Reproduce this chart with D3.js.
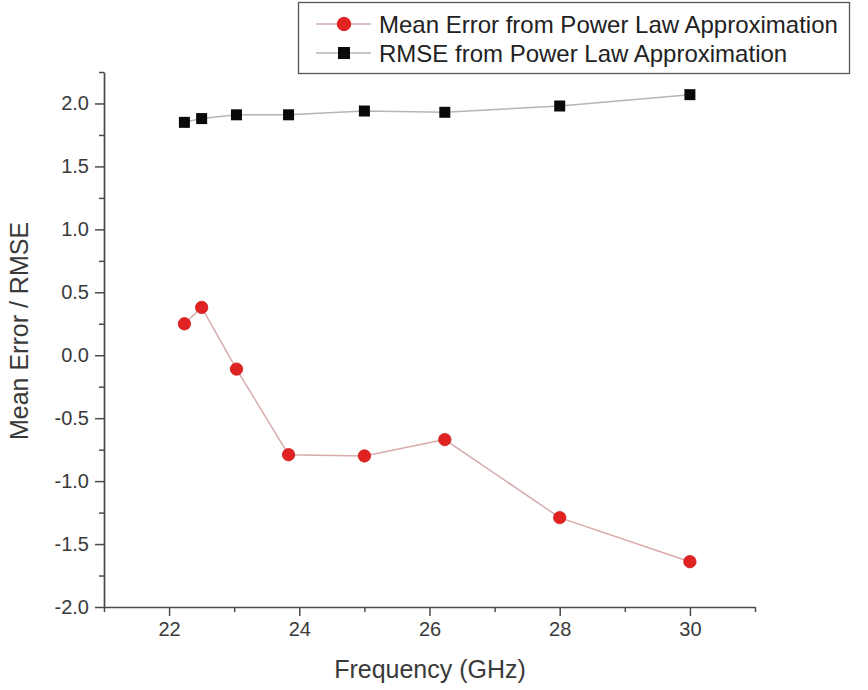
<!DOCTYPE html>
<html>
<head>
<meta charset="utf-8">
<script src="https://cdn.jsdelivr.net/npm/d3@7"></script>
<style>
  html, body { margin: 0; padding: 0; background: #fff; }
  svg { display: block; font-family: Arial, "Liberation Sans", sans-serif; }
</style>
</head>
<body>
<svg id="chart" width="868" height="690"></svg>
<script>
// Frequencies (GHz) at which both error measures were evaluated
const frequencies = [22.235, 22.5, 23.035, 23.835, 25.0, 26.235, 28.0, 30.0];
// Mean error of the power-law approximation
const meanError = [0.25, 0.38, -0.11, -0.79, -0.80, -0.67, -1.29, -1.64];
// Root-mean-square error of the power-law approximation
const rmse = [1.85, 1.88, 1.91, 1.91, 1.94, 1.93, 1.98, 2.07];

const xTicks = [22, 24, 26, 28, 30];
const xMinor = [21, 23, 25, 27, 29, 31];
const yTicks = [-2.0, -1.5, -1.0, -0.5, 0.0, 0.5, 1.0, 1.5, 2.0];
const yMinor = [-1.75, -1.25, -0.75, -0.25, 0.25, 0.75, 1.25, 1.75, 2.25];

const seriesNames = ["Mean Error from Power Law Approximation", "RMSE from Power Law Approximation"];

const svg = d3.select("#chart");
const plot = { left: 104, right: 755, top: 72, bottom: 607 };

const x = d3.scaleLinear().domain([21, 31]).range([plot.left, plot.right]);
const y = d3.scaleLinear().domain([-2, 2.25]).range([plot.bottom, plot.top]);

const axisColor = "#4a4a4a";
const labelColor = "#3a3a3a";
// plain hyphen for negative values
const fmtY = d => (d < 0 ? "-" : "") + Math.abs(d).toFixed(1);

// X axis: major ticks with labels, minor ticks between them
const gx = svg.append("g").attr("transform", `translate(0,${plot.bottom})`);
gx.call(d3.axisBottom(x).tickValues(xTicks).tickSize(9).tickSizeOuter(0).tickPadding(6).tickFormat(d3.format("d")));
gx.append("g").call(d3.axisBottom(x).tickValues(xMinor).tickSize(5).tickSizeOuter(0).tickFormat(""))
  .select(".domain").remove();

// Y axis
const gy = svg.append("g").attr("transform", `translate(${plot.left},0)`);
gy.call(d3.axisLeft(y).tickValues(yTicks).tickSize(9).tickSizeOuter(0).tickPadding(6).tickFormat(fmtY));
gy.append("g").call(d3.axisLeft(y).tickValues(yMinor).tickSize(5).tickSizeOuter(0).tickFormat(""))
  .select(".domain").remove();

svg.selectAll(".domain").attr("stroke", axisColor).attr("stroke-width", 1.7);
svg.selectAll(".tick line").attr("stroke", axisColor).attr("stroke-width", 1.5);
svg.selectAll(".tick text").attr("fill", labelColor).style("font-size", "20px");

// Axis titles
svg.append("text")
  .attr("x", 430).attr("y", 678)
  .attr("text-anchor", "middle").attr("fill", labelColor)
  .style("font-size", "25px").text("Frequency (GHz)");

svg.append("text")
  .attr("transform", `translate(28,331) rotate(-90)`)
  .attr("text-anchor", "middle").attr("fill", labelColor)
  .style("font-size", "25px").text("Mean Error / RMSE");

const line = d3.line().x(d => x(d[0])).y(d => y(d[1]));

// RMSE series: thin gray line with black squares
const rmsePts = frequencies.map((f, i) => [f, rmse[i]]);
svg.append("path").datum(rmsePts).attr("d", line)
  .attr("fill", "none").attr("stroke", "#b5b5b5").attr("stroke-width", 1.5);
svg.append("g").selectAll("rect").data(rmsePts).join("rect")
  .attr("x", d => x(d[0]) - 5.5).attr("y", d => y(d[1]) - 5.5)
  .attr("width", 11).attr("height", 11).attr("fill", "#0a0a0a");

// Mean error series: pale red line with red circles
const mePts = frequencies.map((f, i) => [f, meanError[i]]);
svg.append("path").datum(mePts).attr("d", line)
  .attr("fill", "none").attr("stroke", "#d9aaaa").attr("stroke-width", 1.5);
svg.append("g").selectAll("circle").data(mePts).join("circle")
  .attr("cx", d => x(d[0])).attr("cy", d => y(d[1])).attr("r", 6.2)
  .attr("fill", "#e02222").attr("stroke", "#d01a1a").attr("stroke-width", 0.8);

// Legend
const lg = svg.append("g");
lg.append("rect").attr("x", 298.5).attr("y", 2.5).attr("width", 551).attr("height", 71)
  .attr("fill", "#fff").attr("stroke", "#555").attr("stroke-width", 1.3);
const rowY = [24, 53];
const legendLine = ["#d9aaaa", "#b5b5b5"];
rowY.forEach((ry, i) => {
  lg.append("line").attr("x1", 316).attr("x2", 371).attr("y1", ry).attr("y2", ry)
    .attr("stroke", legendLine[i]).attr("stroke-width", 1.5);
  lg.append("text").attr("x", 379).attr("y", ry + 8.5).attr("fill", "#222")
    .style("font-size", "24px").text(seriesNames[i]);
});
lg.append("circle").attr("cx", 344).attr("cy", rowY[0]).attr("r", 6.8)
  .attr("fill", "#e02222").attr("stroke", "#d01a1a").attr("stroke-width", 0.8);
lg.append("rect").attr("x", 338).attr("y", rowY[1] - 6).attr("width", 12).attr("height", 12)
  .attr("fill", "#0a0a0a");
</script>
</body>
</html>
